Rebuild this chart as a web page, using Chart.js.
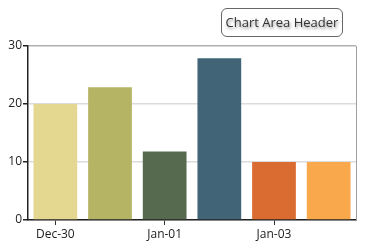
<!DOCTYPE html>
<html>
<head>
<meta charset="utf-8">
<script src="https://cdn.jsdelivr.net/npm/chart.js@4"></script>
<style>
    html, body { margin: 0; padding: 0; background: #fff; }
    #wrap { position: relative; width: 372px; height: 248px; }
    #header {
        position: absolute; left: 221px; top: 8px; width: 120px; height: 27px;
        border: 1px solid #666; border-radius: 6px; background: #fff;
        font-family: "Open Sans", "Noto Sans", sans-serif; font-size: 13px; color: #333;
        line-height: 27px; text-align: center;
        text-shadow: 1px 2px 3px rgba(0,0,0,0.45);
    }
</style>
</head>
<body>
<div id="wrap">
    <canvas id="chart" width="372" height="248"></canvas>
    <div id="header">Chart Area Header</div>
</div>
<script>
"use strict"

// Data
const categories = ["Dec-30", "Dec-31", "Jan-01", "Jan-02", "Jan-03", "Jan-04"];
const values = [20, 22.9, 11.8, 27.9, 10, 10];
const barColors = ["#E4D891", "#B4B464", "#566A50", "#416476", "#DA6C32", "#F9A94B"];
const yTicks = [0, 10, 20, 30];

// Ram på höger sida av ritytan
const rightBorder = {
    id: 'rightBorder',
    afterDraw(chart) {
        const { ctx, chartArea } = chart;
        ctx.save();
        ctx.strokeStyle = '#a0a0a0';
        ctx.lineWidth = 1;
        ctx.beginPath();
        ctx.moveTo(chartArea.right + 0.5, chartArea.top);
        ctx.lineTo(chartArea.right + 0.5, chartArea.bottom);
        ctx.stroke();
        ctx.restore();
    }
};

const font = { family: '"Open Sans", "Noto Sans", sans-serif', size: 12 };

new Chart(document.getElementById('chart'), {
    type: 'bar',
    data: {
        labels: categories,
        datasets: [{
            data: values,
            backgroundColor: barColors,
            barPercentage: 0.8,
            categoryPercentage: 1
        }]
    },
    plugins: [rightBorder],
    options: {
        responsive: false,
        animation: false,
        layout: { padding: { left: 0, right: 16, top: 46, bottom: 0 } },
        plugins: { legend: { display: false }, tooltip: { enabled: false } },
        scales: {
            x: {
                afterFit: s => { s.height = 28; },
                grid: {
                    offset: false,
                    drawOnChartArea: false,
                    tickLength: 5,
                    tickColor: c => (c.index % 2 ? 'rgba(0,0,0,0)' : '#333')
                },
                border: { color: '#222', width: 1.5 },
                ticks: {
                    autoSkip: false,
                    maxRotation: 0,
                    padding: 2,
                    color: '#222',
                    font: font,
                    callback: (v, i) => (i % 2 ? '' : categories[i])
                }
            },
            y: {
                min: 0,
                max: 30,
                afterFit: s => { s.width = 28; },
                afterBuildTicks: s => { s.ticks = yTicks.map(v => ({ value: v })); },
                grid: {
                    color: c => (c.tick && c.tick.value === 30 ? '#b0b0b0' : '#dcdcdc'),
                    lineWidth: 1.5,
                    tickLength: 5,
                    tickColor: '#222'
                },
                border: { color: '#222', width: 1.5 },
                ticks: { color: '#222', font: font, padding: 1 }
            }
        }
    }
});
</script>
</body>
</html>
